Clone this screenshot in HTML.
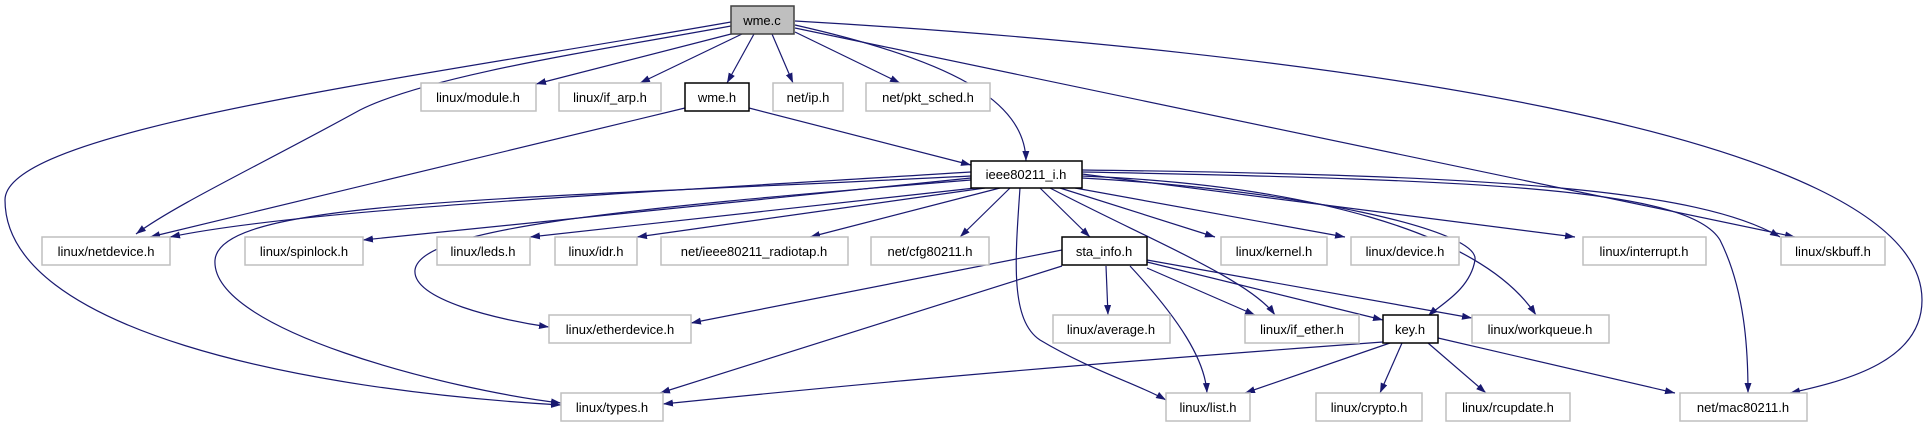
<!DOCTYPE html>
<html><head><meta charset="utf-8"><style>
html,body{margin:0;padding:0;background:#fff;}
svg{display:block;}
text{font-family:"Liberation Sans",sans-serif;font-size:13px;text-anchor:middle;fill:#000;}
.e{fill:none;stroke:#191970;stroke-width:1.2;marker-end:url(#a);}
.g{fill:#fff;stroke:#bfbfbf;stroke-width:1.5;}
.b{fill:#fff;stroke:#000;stroke-width:1.5;}
</style></head><body>
<svg width="1928" height="427" viewBox="0 0 1928 427" xmlns="http://www.w3.org/2000/svg">
<defs><marker id="a" markerUnits="userSpaceOnUse" markerWidth="11" markerHeight="8" refX="10" refY="3.5" orient="auto"><path d="M0,0 L10,3.5 L0,7 z" fill="#191970"/></marker></defs>
<g>
<path class="e" d="M731,22 C400,80 5,130 5,200 C5,330 300,390 561,405"/>
<path class="e" d="M731,26 C600,50 430,75 360,110 C260,165 175,205 136,234"/>
<path class="e" d="M735,33 L536,84"/>
<path class="e" d="M742,34 L640,83"/>
<path class="e" d="M754,34 L727,83"/>
<path class="e" d="M772,34 L793,83"/>
<path class="e" d="M795,32 L900,83"/>
<path class="e" d="M795,25 C950,60 1025,100 1026,161"/>
<path class="e" d="M795,28 L1795,237"/>
<path class="e" d="M795,21 C1300,50 1922,130 1922,300 C1922,360 1850,380 1790,393"/>
<path class="e" d="M685,108 L150,237"/>
<path class="e" d="M749,108 L971,165"/>
<path class="e" d="M971,172 C600,195 300,210 170,237"/>
<path class="e" d="M971,176 C500,200 220,200 215,260 C210,330 450,390 561,403"/>
<path class="e" d="M971,178 L363,240"/>
<path class="e" d="M971,180 C600,210 420,230 415,270 C412,300 500,320 549,327"/>
<path class="e" d="M975,188 L530,237"/>
<path class="e" d="M985,188 L637,237"/>
<path class="e" d="M1000,188 L810,237"/>
<path class="e" d="M1010,188 L960,237"/>
<path class="e" d="M1020,188 C1015,260 1010,320 1040,340 C1090,370 1140,385 1166,400"/>
<path class="e" d="M1040,188 L1090,237"/>
<path class="e" d="M1050,188 C1150,240 1250,280 1275,315"/>
<path class="e" d="M1060,188 L1215,237"/>
<path class="e" d="M1075,188 L1345,237"/>
<path class="e" d="M1082,178 C1300,190 1480,230 1475,260 C1470,290 1440,305 1428,316"/>
<path class="e" d="M1082,176 C1300,185 1480,230 1536,315"/>
<path class="e" d="M1082,174 L1575,237"/>
<path class="e" d="M1082,172 C1500,180 1690,190 1720,240 C1745,290 1748,350 1748,393"/>
<path class="e" d="M1082,170 C1500,175 1700,190 1780,237"/>
<path class="e" d="M1062,250 L691,323"/>
<path class="e" d="M1062,266 L660,393"/>
<path class="e" d="M1106,266 L1108,315"/>
<path class="e" d="M1130,266 C1180,320 1205,360 1207,393"/>
<path class="e" d="M1147,268 L1255,315"/>
<path class="e" d="M1147,262 L1383,320"/>
<path class="e" d="M1147,260 L1472,318"/>
<path class="e" d="M1383,342 C1000,370 800,390 663,404"/>
<path class="e" d="M1390,343 L1245,393"/>
<path class="e" d="M1402,343 L1380,393"/>
<path class="e" d="M1428,343 L1486,393"/>
<path class="e" d="M1438,338 L1675,393"/>
</g>
<g>
<rect x="731" y="6" width="63" height="28" fill="#bfbfbf" stroke="#404040" stroke-width="1.5"/><text x="762" y="25">wme.c</text>
<rect class="g" x="421" y="83" width="115" height="28"/><text x="478" y="102">linux/module.h</text>
<rect class="g" x="559" y="83" width="102" height="28"/><text x="610" y="102">linux/if_arp.h</text>
<rect class="b" x="685" y="83" width="64" height="28"/><text x="717" y="102">wme.h</text>
<rect class="g" x="773" y="83" width="70" height="28"/><text x="808" y="102">net/ip.h</text>
<rect class="g" x="866" y="83" width="124" height="28"/><text x="928" y="102">net/pkt_sched.h</text>
<rect class="b" x="971" y="161" width="111" height="27"/><text x="1026" y="179">ieee80211_i.h</text>
<rect class="g" x="42" y="237" width="128" height="28"/><text x="106" y="256">linux/netdevice.h</text>
<rect class="g" x="245" y="237" width="118" height="28"/><text x="304" y="256">linux/spinlock.h</text>
<rect class="g" x="437" y="237" width="93" height="28"/><text x="483" y="256">linux/leds.h</text>
<rect class="g" x="555" y="237" width="82" height="28"/><text x="596" y="256">linux/idr.h</text>
<rect class="g" x="661" y="237" width="187" height="28"/><text x="754" y="256">net/ieee80211_radiotap.h</text>
<rect class="g" x="871" y="237" width="118" height="28"/><text x="930" y="256">net/cfg80211.h</text>
<rect class="b" x="1062" y="237" width="85" height="28"/><text x="1104" y="256">sta_info.h</text>
<rect class="g" x="1221" y="237" width="106" height="28"/><text x="1274" y="256">linux/kernel.h</text>
<rect class="g" x="1351" y="237" width="108" height="28"/><text x="1405" y="256">linux/device.h</text>
<rect class="g" x="1583" y="237" width="123" height="28"/><text x="1644" y="256">linux/interrupt.h</text>
<rect class="g" x="1781" y="237" width="104" height="28"/><text x="1833" y="256">linux/skbuff.h</text>
<rect class="g" x="549" y="315" width="142" height="28"/><text x="620" y="334">linux/etherdevice.h</text>
<rect class="g" x="1053" y="315" width="117" height="28"/><text x="1111" y="334">linux/average.h</text>
<rect class="g" x="1245" y="315" width="114" height="28"/><text x="1302" y="334">linux/if_ether.h</text>
<rect class="b" x="1383" y="315" width="55" height="28"/><text x="1410" y="334">key.h</text>
<rect class="g" x="1472" y="315" width="137" height="28"/><text x="1540" y="334">linux/workqueue.h</text>
<rect class="g" x="561" y="393" width="102" height="28"/><text x="612" y="412">linux/types.h</text>
<rect class="g" x="1166" y="393" width="84" height="28"/><text x="1208" y="412">linux/list.h</text>
<rect class="g" x="1316" y="393" width="106" height="28"/><text x="1369" y="412">linux/crypto.h</text>
<rect class="g" x="1446" y="393" width="124" height="28"/><text x="1508" y="412">linux/rcupdate.h</text>
<rect class="g" x="1680" y="393" width="127" height="28"/><text x="1743" y="412">net/mac80211.h</text>
</g>
</svg>
</body></html>
